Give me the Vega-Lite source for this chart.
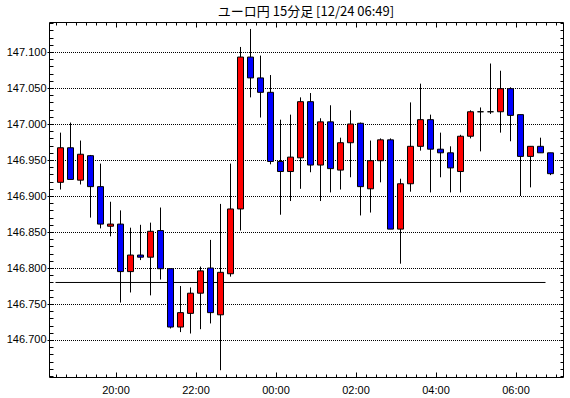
{
  "$schema": "https://vega.github.io/schema/vega-lite/v6.json",
  "width": 514,
  "height": 355,
  "autosize": {"type": "none"},
  "padding": {"left": 49, "top": 22, "right": 7, "bottom": 21},
  "background": "white",
  "title": {"text": "ユーロ円 15分足 [12/24 06:49]", "font": "Noto Sans CJK JP", "fontSize": 13, "fontWeight": "normal", "color": "black", "anchor": "middle", "frame": "group", "offset": 3},
  "config": {
    "view": {"stroke": "black", "strokeWidth": 1},
    "axis": {"title": null, "domain": false, "grid": false, "tickColor": "black", "labelColor": "black", "labelFont": "Liberation Sans", "labelFontSize": 11, "labelFlush": false, "labelOverlap": false}
  },
  "datasets": {
    "candles": [
      {"t": "2024-12-23T18:30Z", "o": 146.919, "h": 146.988, "l": 146.909, "c": 146.967},
      {"t": "2024-12-23T18:45Z", "o": 146.967, "h": 147.002, "l": 146.923, "c": 146.923},
      {"t": "2024-12-23T19:00Z", "o": 146.922, "h": 146.977, "l": 146.916, "c": 146.958},
      {"t": "2024-12-23T19:15Z", "o": 146.956, "h": 146.957, "l": 146.870, "c": 146.913},
      {"t": "2024-12-23T19:30Z", "o": 146.913, "h": 146.945, "l": 146.855, "c": 146.861},
      {"t": "2024-12-23T19:45Z", "o": 146.858, "h": 146.892, "l": 146.844, "c": 146.861},
      {"t": "2024-12-23T20:00Z", "o": 146.861, "h": 146.880, "l": 146.752, "c": 146.795},
      {"t": "2024-12-23T20:15Z", "o": 146.795, "h": 146.856, "l": 146.766, "c": 146.818},
      {"t": "2024-12-23T20:30Z", "o": 146.818, "h": 146.860, "l": 146.811, "c": 146.815},
      {"t": "2024-12-23T20:45Z", "o": 146.815, "h": 146.863, "l": 146.762, "c": 146.851},
      {"t": "2024-12-23T21:00Z", "o": 146.852, "h": 146.884, "l": 146.784, "c": 146.799},
      {"t": "2024-12-23T21:15Z", "o": 146.799, "h": 146.799, "l": 146.716, "c": 146.718},
      {"t": "2024-12-23T21:30Z", "o": 146.718, "h": 146.775, "l": 146.711, "c": 146.738},
      {"t": "2024-12-23T21:45Z", "o": 146.737, "h": 146.773, "l": 146.709, "c": 146.765},
      {"t": "2024-12-23T22:00Z", "o": 146.765, "h": 146.802, "l": 146.715, "c": 146.796},
      {"t": "2024-12-23T22:15Z", "o": 146.800, "h": 146.839, "l": 146.723, "c": 146.738},
      {"t": "2024-12-23T22:30Z", "o": 146.735, "h": 146.889, "l": 146.658, "c": 146.794},
      {"t": "2024-12-23T22:45Z", "o": 146.792, "h": 146.945, "l": 146.788, "c": 146.882},
      {"t": "2024-12-23T23:00Z", "o": 146.882, "h": 147.107, "l": 146.852, "c": 147.093},
      {"t": "2024-12-23T23:15Z", "o": 147.093, "h": 147.132, "l": 147.037, "c": 147.064},
      {"t": "2024-12-23T23:30Z", "o": 147.064, "h": 147.095, "l": 147.009, "c": 147.044},
      {"t": "2024-12-23T23:45Z", "o": 147.044, "h": 147.068, "l": 146.944, "c": 146.948},
      {"t": "2024-12-24T00:00Z", "o": 146.948, "h": 147.006, "l": 146.874, "c": 146.934},
      {"t": "2024-12-24T00:15Z", "o": 146.934, "h": 147.013, "l": 146.893, "c": 146.954},
      {"t": "2024-12-24T00:30Z", "o": 146.953, "h": 147.037, "l": 146.910, "c": 147.031},
      {"t": "2024-12-24T00:45Z", "o": 147.031, "h": 147.043, "l": 146.933, "c": 146.943},
      {"t": "2024-12-24T01:00Z", "o": 146.943, "h": 147.008, "l": 146.893, "c": 147.003},
      {"t": "2024-12-24T01:15Z", "o": 147.003, "h": 147.026, "l": 146.905, "c": 146.938},
      {"t": "2024-12-24T01:30Z", "o": 146.936, "h": 146.981, "l": 146.909, "c": 146.974},
      {"t": "2024-12-24T01:45Z", "o": 146.974, "h": 147.019, "l": 146.926, "c": 147.000},
      {"t": "2024-12-24T02:00Z", "o": 147.001, "h": 147.002, "l": 146.873, "c": 146.913},
      {"t": "2024-12-24T02:15Z", "o": 146.910, "h": 146.977, "l": 146.877, "c": 146.949},
      {"t": "2024-12-24T02:30Z", "o": 146.949, "h": 146.980, "l": 146.919, "c": 146.978},
      {"t": "2024-12-24T02:45Z", "o": 146.978, "h": 146.980, "l": 146.854, "c": 146.854},
      {"t": "2024-12-24T03:00Z", "o": 146.854, "h": 146.924, "l": 146.806, "c": 146.917},
      {"t": "2024-12-24T03:15Z", "o": 146.917, "h": 147.030, "l": 146.906, "c": 146.969},
      {"t": "2024-12-24T03:30Z", "o": 146.969, "h": 147.056, "l": 146.963, "c": 147.006},
      {"t": "2024-12-24T03:45Z", "o": 147.006, "h": 147.013, "l": 146.905, "c": 146.965},
      {"t": "2024-12-24T04:00Z", "o": 146.965, "h": 146.988, "l": 146.926, "c": 146.960},
      {"t": "2024-12-24T04:15Z", "o": 146.960, "h": 146.969, "l": 146.905, "c": 146.939},
      {"t": "2024-12-24T04:30Z", "o": 146.934, "h": 146.985, "l": 146.905, "c": 146.983},
      {"t": "2024-12-24T04:45Z", "o": 146.983, "h": 147.019, "l": 146.980, "c": 147.017},
      {"t": "2024-12-24T05:00Z", "o": 147.017, "h": 147.023, "l": 146.962, "c": 147.017},
      {"t": "2024-12-24T05:15Z", "o": 147.017, "h": 147.084, "l": 147.014, "c": 147.017},
      {"t": "2024-12-24T05:30Z", "o": 147.017, "h": 147.074, "l": 146.988, "c": 147.049},
      {"t": "2024-12-24T05:45Z", "o": 147.049, "h": 147.051, "l": 146.976, "c": 147.012},
      {"t": "2024-12-24T06:00Z", "o": 147.013, "h": 147.013, "l": 146.900, "c": 146.955},
      {"t": "2024-12-24T06:15Z", "o": 146.955, "h": 146.969, "l": 146.912, "c": 146.969},
      {"t": "2024-12-24T06:30Z", "o": 146.969, "h": 146.981, "l": 146.960, "c": 146.960},
      {"t": "2024-12-24T06:45Z", "o": 146.960, "h": 146.960, "l": 146.929, "c": 146.931}
    ],
    "ref": [
      {"s": "2024-12-23T18:30Z", "e": "2024-12-24T06:45Z", "v": 146.7799}
    ]
  },
  "layer": [
    {
      "data": {"name": "ref"},
      "mark": {"type": "rule", "color": "black", "strokeWidth": 1},
      "encoding": {
        "x": {"field": "s", "type": "temporal",
              "scale": {"type": "utc", "domain": [1734978015000, 1735024275000], "nice": false},
              "axis": {"orient": "top", "labels": false, "ticks": true, "tickSize": -3,
                       "values": [1734978600000, 1734979500000, 1734980400000, 1734981300000, 1734982200000, 1734983100000, 1734984000000, 1734984900000, 1734985800000, 1734986700000, 1734987600000, 1734988500000, 1734989400000, 1734990300000, 1734991200000, 1734992100000, 1734993000000, 1734993900000, 1734994800000, 1734995700000, 1734996600000, 1734997500000, 1734998400000, 1734999300000, 1735000200000, 1735001100000, 1735002000000, 1735002900000, 1735003800000, 1735004700000, 1735005600000, 1735006500000, 1735007400000, 1735008300000, 1735009200000, 1735010100000, 1735011000000, 1735011900000, 1735012800000, 1735013700000, 1735014600000, 1735015500000, 1735016400000, 1735017300000, 1735018200000, 1735019100000, 1735020000000, 1735020900000, 1735021800000, 1735022700000, 1735023600000]}},
        "x2": {"field": "e"},
        "y": {"field": "v", "type": "quantitative",
              "scale": {"domain": [146.648611, 147.141667], "nice": false, "zero": false},
              "axis": {"orient": "right", "labels": false, "ticks": true, "tickSize": -3, "tickCount": 50}}
      }
    },
    {
      "data": {"name": "candles"},
      "mark": {"type": "rule", "color": "black", "strokeWidth": 1},
      "encoding": {
        "x": {"field": "t", "type": "temporal", "timeUnit": {"unit": "utcyearmonthdatehoursminutes", "step": 15}, "bandPosition": 0.5,
              "axis": {"orient": "bottom", "ticks": false, "labelPadding": 7, "format": "%H:%M",
                       "values": [1734984000000, 1734991200000, 1734998400000, 1735005600000, 1735012800000, 1735020000000]}},
        "y": {"field": "l", "type": "quantitative",
              "axis": {"orient": "left", "grid": true, "gridColor": "black", "gridOpacity": 1, "gridWidth": 1, "gridDash": [1, 1], "gridDashOffset": 0.5, "ticks": true, "tickSize": 2, "labelPadding": 1, "format": ".3f", "values": [146.7, 146.75, 146.8, 146.85, 146.9, 146.95, 147.0, 147.05, 147.1]}},
        "y2": {"field": "h"}
      }
    },
    {
      "data": {"name": "candles"},
      "mark": {"type": "bar", "width": 6, "stroke": "black", "strokeWidth": 1, "fillOpacity": 1},
      "encoding": {
        "x": {"field": "t", "type": "temporal", "timeUnit": {"unit": "utcyearmonthdatehoursminutes", "step": 15}, "bandPosition": 0.5,
              "axis": {"orient": "bottom", "labels": false, "ticks": true, "tickSize": -3,
                       "values": [1734978600000, 1734979500000, 1734980400000, 1734981300000, 1734982200000, 1734983100000, 1734984000000, 1734984900000, 1734985800000, 1734986700000, 1734987600000, 1734988500000, 1734989400000, 1734990300000, 1734991200000, 1734992100000, 1734993000000, 1734993900000, 1734994800000, 1734995700000, 1734996600000, 1734997500000, 1734998400000, 1734999300000, 1735000200000, 1735001100000, 1735002000000, 1735002900000, 1735003800000, 1735004700000, 1735005600000, 1735006500000, 1735007400000, 1735008300000, 1735009200000, 1735010100000, 1735011000000, 1735011900000, 1735012800000, 1735013700000, 1735014600000, 1735015500000, 1735016400000, 1735017300000, 1735018200000, 1735019100000, 1735020000000, 1735020900000, 1735021800000, 1735022700000, 1735023600000]}},
        "y": {"field": "o", "type": "quantitative",
              "axis": {"orient": "left", "labels": false, "ticks": true, "tickSize": -4, "tickCount": 50}},
        "y2": {"field": "c"},
        "fill": {"condition": {"test": "datum.c > datum.o", "value": "#ff0000"}, "value": "#0000ff"}
      }
    },
    {
      "data": {"name": "candles"},
      "mark": {"type": "rule", "opacity": 0},
      "encoding": {
        "x": {"field": "t", "type": "temporal",
              "axis": {"orient": "bottom", "labels": false, "ticks": true, "tickSize": -5,
                       "values": [1734984000000, 1734991200000, 1734998400000, 1735005600000, 1735012800000, 1735020000000]}},
        "y": {"field": "l", "type": "quantitative", "axis": null}
      }
    },
    {
      "data": {"name": "candles"},
      "mark": {"type": "rule", "opacity": 0},
      "encoding": {
        "x": {"field": "t", "type": "temporal",
              "axis": {"orient": "top", "labels": false, "ticks": true, "tickSize": -5,
                       "values": [1734984000000, 1734991200000, 1734998400000, 1735005600000, 1735012800000, 1735020000000]}},
        "y": {"field": "h", "type": "quantitative", "axis": null}
      }
    }
  ],
  "resolve": {"axis": {"x": "independent", "y": "independent"}}
}
